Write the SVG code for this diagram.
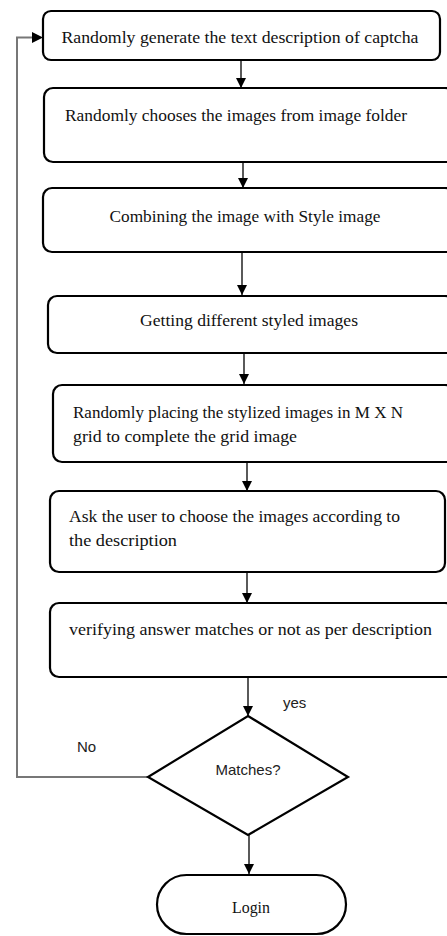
<svg xmlns="http://www.w3.org/2000/svg" width="447" height="936" viewBox="0 0 447 936">
  <defs>
    <marker id="arrow" markerWidth="10" markerHeight="10" refX="10" refY="5" orient="auto" markerUnits="userSpaceOnUse">
      <path d="M0,0 L10,5 L0,10 Z" fill="#000"/>
    </marker>
    <style>
      .box { fill: #fff; stroke: #000; stroke-width: 2.2; }
      .lbl { font-family: "Liberation Serif", "DejaVu Serif", serif; font-size: 17px; fill: #111; }
      .mid { text-anchor: middle; }
      .side { font-family: "Liberation Sans", "DejaVu Sans", sans-serif; font-size: 15px; fill: #222; }
      .link { fill: none; stroke: #000; stroke-width: 1.3; }
      .loop { fill: none; stroke: #777; stroke-width: 2; }
    </style>
  </defs>
  <rect width="447" height="936" fill="#fff"/>

  <g id="connectors">
    <line class="link" x1="241" y1="60" x2="241" y2="88" marker-end="url(#arrow)"/>
    <line class="link" x1="243" y1="162" x2="243" y2="188" marker-end="url(#arrow)"/>
    <line class="link" x1="242" y1="252" x2="242" y2="295" marker-end="url(#arrow)"/>
    <line class="link" x1="244" y1="353" x2="244" y2="384" marker-end="url(#arrow)"/>
    <line class="link" x1="247" y1="462" x2="247" y2="491" marker-end="url(#arrow)"/>
    <line class="link" x1="247" y1="572" x2="247" y2="603" marker-end="url(#arrow)"/>
    <line class="link" x1="248" y1="677" x2="248" y2="716" marker-end="url(#arrow)"/>
    <line class="link" x1="249" y1="835" x2="249" y2="874" marker-end="url(#arrow)"/>
    <polyline class="loop" points="148,777 17,777 17,37.5 32,37.5"/>
    <path d="M32,32 L43,37.5 L32,43 Z" fill="#000"/>
  </g>

  <g id="n1">
    <rect class="box" x="43" y="11" width="397" height="49" rx="8"/>
    <text class="lbl mid" x="240" y="43" textLength="357" lengthAdjust="spacingAndGlyphs">Randomly generate the text description of captcha</text>
  </g>
  <g id="n2">
    <rect class="box" x="44" y="88" width="410" height="74" rx="9"/>
    <text class="lbl mid" x="236" y="121" textLength="342" lengthAdjust="spacingAndGlyphs">Randomly chooses the images from image folder</text>
  </g>
  <g id="n3">
    <rect class="box" x="43" y="188" width="411" height="64" rx="9"/>
    <text class="lbl mid" x="245" y="222" textLength="271" lengthAdjust="spacingAndGlyphs">Combining the image with Style image</text>
  </g>
  <g id="n4">
    <rect class="box" x="48" y="296" width="406" height="57" rx="9"/>
    <text class="lbl mid" x="249" y="326" textLength="218" lengthAdjust="spacingAndGlyphs">Getting different styled images</text>
  </g>
  <g id="n5">
    <rect class="box" x="53" y="385" width="401" height="77" rx="9"/>
    <text class="lbl" x="73" y="418" textLength="330" lengthAdjust="spacingAndGlyphs">Randomly placing the stylized images in M X N</text>
    <text class="lbl" x="73" y="442" textLength="224" lengthAdjust="spacingAndGlyphs">grid to complete the grid  image</text>
  </g>
  <g id="n6">
    <rect class="box" x="50" y="491" width="395" height="81" rx="9"/>
    <text class="lbl" x="69" y="522" textLength="331" lengthAdjust="spacingAndGlyphs">Ask the user to choose the images according to</text>
    <text class="lbl" x="69" y="546" textLength="108" lengthAdjust="spacingAndGlyphs">the description</text>
  </g>
  <g id="n7">
    <rect class="box" x="50" y="603" width="404" height="74" rx="9"/>
    <text class="lbl" x="69" y="635" textLength="363" lengthAdjust="spacingAndGlyphs">verifying answer matches  or not as per description</text>
  </g>
  <g id="decision">
    <polygon class="box" points="248,716 348,777 248,835 148,777"/>
    <text class="side mid" x="248" y="775">Matches?</text>
  </g>
  <g id="labels">
    <text class="side" x="283" y="708">yes</text>
    <text class="side" x="77" y="752">No</text>
  </g>
  <g id="login">
    <rect class="box" x="157" y="875" width="189" height="59" rx="29.5"/>
    <text class="lbl mid" x="251" y="913" textLength="38" lengthAdjust="spacingAndGlyphs">Login</text>
  </g>
</svg>
